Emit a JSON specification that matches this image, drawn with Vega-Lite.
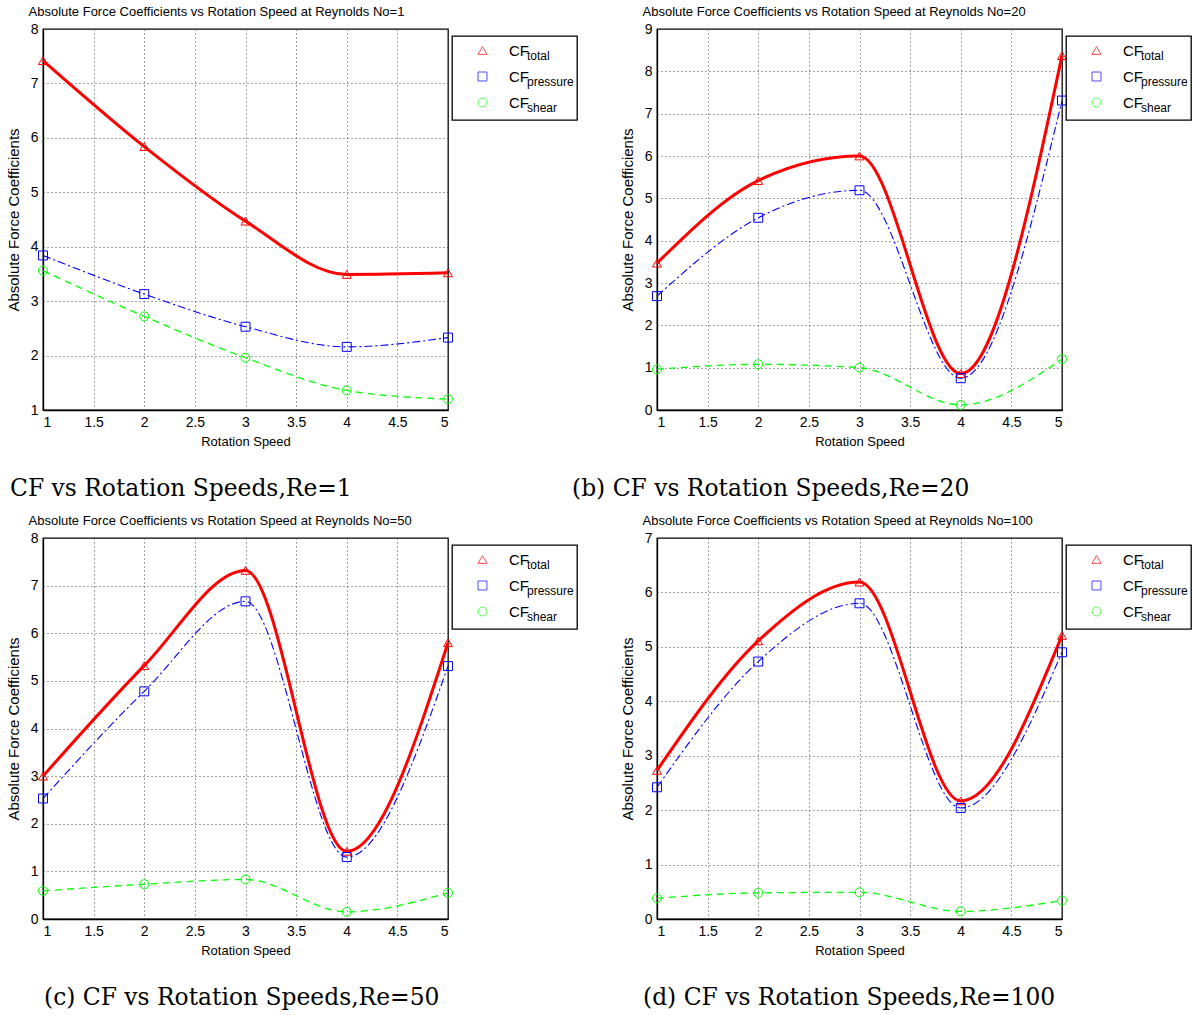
{
  "$schema": "https://vega.github.io/schema/vega-lite/v6.json",
  "background": "white",
  "padding": {"left": 5, "top": 4, "right": 0, "bottom": 0},
  "datasets": {
    "cf": [
      {"re": 1, "speed": 1, "series": "total", "cf": 7.42},
      {"re": 1, "speed": 2, "series": "total", "cf": 5.84},
      {"re": 1, "speed": 3, "series": "total", "cf": 4.47},
      {"re": 1, "speed": 4, "series": "total", "cf": 3.49},
      {"re": 1, "speed": 5, "series": "total", "cf": 3.52},
      {"re": 1, "speed": 1, "series": "pressure", "cf": 3.84},
      {"re": 1, "speed": 2, "series": "pressure", "cf": 3.13},
      {"re": 1, "speed": 3, "series": "pressure", "cf": 2.53},
      {"re": 1, "speed": 4, "series": "pressure", "cf": 2.16},
      {"re": 1, "speed": 5, "series": "pressure", "cf": 2.33},
      {"re": 1, "speed": 1, "series": "shear", "cf": 3.56},
      {"re": 1, "speed": 2, "series": "shear", "cf": 2.72},
      {"re": 1, "speed": 3, "series": "shear", "cf": 1.96},
      {"re": 1, "speed": 4, "series": "shear", "cf": 1.36},
      {"re": 1, "speed": 5, "series": "shear", "cf": 1.2},
      {"re": 20, "speed": 1, "series": "total", "cf": 3.47},
      {"re": 20, "speed": 2, "series": "total", "cf": 5.42},
      {"re": 20, "speed": 3, "series": "total", "cf": 6.0},
      {"re": 20, "speed": 4, "series": "total", "cf": 0.86},
      {"re": 20, "speed": 5, "series": "total", "cf": 8.37},
      {"re": 20, "speed": 1, "series": "pressure", "cf": 2.69},
      {"re": 20, "speed": 2, "series": "pressure", "cf": 4.54},
      {"re": 20, "speed": 3, "series": "pressure", "cf": 5.19},
      {"re": 20, "speed": 4, "series": "pressure", "cf": 0.75},
      {"re": 20, "speed": 5, "series": "pressure", "cf": 7.31},
      {"re": 20, "speed": 1, "series": "shear", "cf": 0.96},
      {"re": 20, "speed": 2, "series": "shear", "cf": 1.08},
      {"re": 20, "speed": 3, "series": "shear", "cf": 1.0},
      {"re": 20, "speed": 4, "series": "shear", "cf": 0.12},
      {"re": 20, "speed": 5, "series": "shear", "cf": 1.2},
      {"re": 50, "speed": 1, "series": "total", "cf": 3.0},
      {"re": 50, "speed": 2, "series": "total", "cf": 5.32},
      {"re": 50, "speed": 3, "series": "total", "cf": 7.32},
      {"re": 50, "speed": 4, "series": "total", "cf": 1.42},
      {"re": 50, "speed": 5, "series": "total", "cf": 5.8},
      {"re": 50, "speed": 1, "series": "pressure", "cf": 2.53},
      {"re": 50, "speed": 2, "series": "pressure", "cf": 4.78},
      {"re": 50, "speed": 3, "series": "pressure", "cf": 6.67},
      {"re": 50, "speed": 4, "series": "pressure", "cf": 1.3},
      {"re": 50, "speed": 5, "series": "pressure", "cf": 5.31},
      {"re": 50, "speed": 1, "series": "shear", "cf": 0.59},
      {"re": 50, "speed": 2, "series": "shear", "cf": 0.73},
      {"re": 50, "speed": 3, "series": "shear", "cf": 0.83},
      {"re": 50, "speed": 4, "series": "shear", "cf": 0.15},
      {"re": 50, "speed": 5, "series": "shear", "cf": 0.55},
      {"re": 100, "speed": 1, "series": "total", "cf": 2.73},
      {"re": 100, "speed": 2, "series": "total", "cf": 5.11},
      {"re": 100, "speed": 3, "series": "total", "cf": 6.19},
      {"re": 100, "speed": 4, "series": "total", "cf": 2.17},
      {"re": 100, "speed": 5, "series": "total", "cf": 5.21},
      {"re": 100, "speed": 1, "series": "pressure", "cf": 2.42},
      {"re": 100, "speed": 2, "series": "pressure", "cf": 4.73},
      {"re": 100, "speed": 3, "series": "pressure", "cf": 5.8},
      {"re": 100, "speed": 4, "series": "pressure", "cf": 2.04},
      {"re": 100, "speed": 5, "series": "pressure", "cf": 4.9},
      {"re": 100, "speed": 1, "series": "shear", "cf": 0.38},
      {"re": 100, "speed": 2, "series": "shear", "cf": 0.48},
      {"re": 100, "speed": 3, "series": "shear", "cf": 0.49},
      {"re": 100, "speed": 4, "series": "shear", "cf": 0.14},
      {"re": 100, "speed": 5, "series": "shear", "cf": 0.34}
    ]
  },
  "columns": 2,
  "spacing": {"row": 128, "column": 209},
  "bounds": "flush",
  "resolve": {
    "scale": {"color": "independent", "shape": "independent", "opacity": "independent", "x": "independent", "y": "independent"},
    "legend": {"color": "independent", "shape": "independent", "opacity": "independent"}
  },
  "concat": [
    {
      "width": 405, "height": 381,
      "data": {"name": "cf"},
      "transform": [{"filter": "datum.re == 1"}],
      "title": {"text": "CF vs Rotation Speeds,Re=1", "dx": -33},
      "encoding": {
        "y": {"field": "cf", "type": "quantitative", "scale": {"domain": [1, 8], "nice": false, "zero": false},
              "axis": {"values": [1, 2, 3, 4, 5, 6, 7, 8], "title": "Absolute Force Coefficients"}}
      },
      "resolve": {"axis": {"x": "independent"}},
      "layer": [
        {"transform": [{"filter": "datum.series == 'total'"}],
         "mark": {"type": "line", "interpolate": "monotone", "color": "#ff0000", "strokeWidth": 3},
         "encoding": {"x": {"field": "speed", "type": "quantitative", "scale": {"domain": [1, 5]},
                            "axis": {"values": [1, 1.5, 2, 2.5, 3, 3.5, 4, 4.5, 5], "format": "~g", "title": "Rotation Speed"}}}},
        {"transform": [{"filter": "datum.series == 'pressure'"}],
         "mark": {"type": "line", "interpolate": "monotone", "color": "#0000ff", "strokeWidth": 1.1, "strokeDash": [8, 3, 2, 3]},
         "encoding": {"x": {"field": "speed", "type": "quantitative", "axis": null}}},
        {"transform": [{"filter": "datum.series == 'shear'"}],
         "mark": {"type": "line", "interpolate": "monotone", "color": "#00ff00", "strokeWidth": 1.3, "strokeDash": [7, 5]},
         "encoding": {"x": {"field": "speed", "type": "quantitative", "axis": null}}},
        {"mark": {"type": "point", "filled": false, "size": 80, "strokeWidth": 1},
         "encoding": {
           "x": {"field": "speed", "type": "quantitative",
                 "axis": {"orient": "top", "labels": false, "ticks": false, "domain": false, "grid": false,
                          "title": "Absolute Force Coefficients vs Rotation Speed at Reynolds No=1"}},
           "color": {"field": "series", "type": "nominal", "scale": {"domain": ["total", "pressure", "shear"], "range": ["#ff0000", "#0000ff", "#00ff00"]},
                     "legend": {"title": null, "legendX": 409, "legendY": 7, "labelExpr": "'CF'"}},
           "shape": {"field": "series", "type": "nominal", "scale": {"domain": ["total", "pressure", "shear"], "range": ["triangle-up", "square", "circle"]},
                     "legend": {"title": null, "legendX": 409, "legendY": 7, "labelExpr": "'CF'"}},
           "opacity": {"field": "series", "type": "ordinal", "sort": ["total", "pressure", "shear"], "scale": {"range": [1, 1]},
                       "legend": {"title": null, "legendX": 409, "legendY": 7, "padding": 3, "strokeColor": "black", "symbolSize": 529, "symbolOffset": 0, "symbolStrokeColor": "transparent", "symbolFillColor": "transparent", "labelOffset": 48, "labelFontSize": 12, "labelBaseline": "top", "rowPadding": -3.5,
                                  "encode": {"symbols": {"update": {"opacity": {"value": 0}, "stroke": {"value": "transparent"}, "fill": {"value": "transparent"}, "strokeOpacity": {"value": 0}, "fillOpacity": {"value": 0}}}}}}
         }}
      ]
    },
    {
      "width": 405, "height": 381,
      "data": {"name": "cf"},
      "transform": [{"filter": "datum.re == 20"}],
      "title": {"text": "(b) CF vs Rotation Speeds,Re=20", "dx": -85},
      "encoding": {
        "y": {"field": "cf", "type": "quantitative", "scale": {"domain": [0, 9], "nice": false, "zero": false},
              "axis": {"values": [0, 1, 2, 3, 4, 5, 6, 7, 8, 9], "title": "Absolute Force Coefficients"}}
      },
      "resolve": {"axis": {"x": "independent"}},
      "layer": [
        {"transform": [{"filter": "datum.series == 'total'"}],
         "mark": {"type": "line", "interpolate": "monotone", "color": "#ff0000", "strokeWidth": 3},
         "encoding": {"x": {"field": "speed", "type": "quantitative", "scale": {"domain": [1, 5]},
                            "axis": {"values": [1, 1.5, 2, 2.5, 3, 3.5, 4, 4.5, 5], "format": "~g", "title": "Rotation Speed"}}}},
        {"transform": [{"filter": "datum.series == 'pressure'"}],
         "mark": {"type": "line", "interpolate": "monotone", "color": "#0000ff", "strokeWidth": 1.1, "strokeDash": [8, 3, 2, 3]},
         "encoding": {"x": {"field": "speed", "type": "quantitative", "axis": null}}},
        {"transform": [{"filter": "datum.series == 'shear'"}],
         "mark": {"type": "line", "interpolate": "monotone", "color": "#00ff00", "strokeWidth": 1.3, "strokeDash": [7, 5]},
         "encoding": {"x": {"field": "speed", "type": "quantitative", "axis": null}}},
        {"mark": {"type": "point", "filled": false, "size": 80, "strokeWidth": 1},
         "encoding": {
           "x": {"field": "speed", "type": "quantitative",
                 "axis": {"orient": "top", "labels": false, "ticks": false, "domain": false, "grid": false,
                          "title": "Absolute Force Coefficients vs Rotation Speed at Reynolds No=20"}},
           "color": {"field": "series", "type": "nominal", "scale": {"domain": ["total", "pressure", "shear"], "range": ["#ff0000", "#0000ff", "#00ff00"]},
                     "legend": {"title": null, "legendX": 409, "legendY": 7, "labelExpr": "'CF'"}},
           "shape": {"field": "series", "type": "nominal", "scale": {"domain": ["total", "pressure", "shear"], "range": ["triangle-up", "square", "circle"]},
                     "legend": {"title": null, "legendX": 409, "legendY": 7, "labelExpr": "'CF'"}},
           "opacity": {"field": "series", "type": "ordinal", "sort": ["total", "pressure", "shear"], "scale": {"range": [1, 1]},
                       "legend": {"title": null, "legendX": 409, "legendY": 7, "padding": 3, "strokeColor": "black", "symbolSize": 529, "symbolOffset": 0, "symbolStrokeColor": "transparent", "symbolFillColor": "transparent", "labelOffset": 48, "labelFontSize": 12, "labelBaseline": "top", "rowPadding": -3.5,
                                  "encode": {"symbols": {"update": {"opacity": {"value": 0}, "stroke": {"value": "transparent"}, "fill": {"value": "transparent"}, "strokeOpacity": {"value": 0}, "fillOpacity": {"value": 0}}}}}}
         }}
      ]
    },
    {
      "width": 405, "height": 381,
      "data": {"name": "cf"},
      "transform": [{"filter": "datum.re == 50"}],
      "title": {"text": "(c) CF vs Rotation Speeds,Re=50", "dx": 1},
      "encoding": {
        "y": {"field": "cf", "type": "quantitative", "scale": {"domain": [0, 8], "nice": false, "zero": false},
              "axis": {"values": [0, 1, 2, 3, 4, 5, 6, 7, 8], "title": "Absolute Force Coefficients"}}
      },
      "resolve": {"axis": {"x": "independent"}},
      "layer": [
        {"transform": [{"filter": "datum.series == 'total'"}],
         "mark": {"type": "line", "interpolate": "monotone", "color": "#ff0000", "strokeWidth": 3},
         "encoding": {"x": {"field": "speed", "type": "quantitative", "scale": {"domain": [1, 5]},
                            "axis": {"values": [1, 1.5, 2, 2.5, 3, 3.5, 4, 4.5, 5], "format": "~g", "title": "Rotation Speed"}}}},
        {"transform": [{"filter": "datum.series == 'pressure'"}],
         "mark": {"type": "line", "interpolate": "monotone", "color": "#0000ff", "strokeWidth": 1.1, "strokeDash": [8, 3, 2, 3]},
         "encoding": {"x": {"field": "speed", "type": "quantitative", "axis": null}}},
        {"transform": [{"filter": "datum.series == 'shear'"}],
         "mark": {"type": "line", "interpolate": "monotone", "color": "#00ff00", "strokeWidth": 1.3, "strokeDash": [7, 5]},
         "encoding": {"x": {"field": "speed", "type": "quantitative", "axis": null}}},
        {"mark": {"type": "point", "filled": false, "size": 80, "strokeWidth": 1},
         "encoding": {
           "x": {"field": "speed", "type": "quantitative",
                 "axis": {"orient": "top", "labels": false, "ticks": false, "domain": false, "grid": false,
                          "title": "Absolute Force Coefficients vs Rotation Speed at Reynolds No=50"}},
           "color": {"field": "series", "type": "nominal", "scale": {"domain": ["total", "pressure", "shear"], "range": ["#ff0000", "#0000ff", "#00ff00"]},
                     "legend": {"title": null, "legendX": 409, "legendY": 7, "labelExpr": "'CF'"}},
           "shape": {"field": "series", "type": "nominal", "scale": {"domain": ["total", "pressure", "shear"], "range": ["triangle-up", "square", "circle"]},
                     "legend": {"title": null, "legendX": 409, "legendY": 7, "labelExpr": "'CF'"}},
           "opacity": {"field": "series", "type": "ordinal", "sort": ["total", "pressure", "shear"], "scale": {"range": [1, 1]},
                       "legend": {"title": null, "legendX": 409, "legendY": 7, "padding": 3, "strokeColor": "black", "symbolSize": 529, "symbolOffset": 0, "symbolStrokeColor": "transparent", "symbolFillColor": "transparent", "labelOffset": 48, "labelFontSize": 12, "labelBaseline": "top", "rowPadding": -3.5,
                                  "encode": {"symbols": {"update": {"opacity": {"value": 0}, "stroke": {"value": "transparent"}, "fill": {"value": "transparent"}, "strokeOpacity": {"value": 0}, "fillOpacity": {"value": 0}}}}}}
         }}
      ]
    },
    {
      "width": 405, "height": 381,
      "data": {"name": "cf"},
      "transform": [{"filter": "datum.re == 100"}],
      "title": {"text": "(d) CF vs Rotation Speeds,Re=100", "dx": -14},
      "encoding": {
        "y": {"field": "cf", "type": "quantitative", "scale": {"domain": [0, 7], "nice": false, "zero": false},
              "axis": {"values": [0, 1, 2, 3, 4, 5, 6, 7], "title": "Absolute Force Coefficients"}}
      },
      "resolve": {"axis": {"x": "independent"}},
      "layer": [
        {"transform": [{"filter": "datum.series == 'total'"}],
         "mark": {"type": "line", "interpolate": "monotone", "color": "#ff0000", "strokeWidth": 3},
         "encoding": {"x": {"field": "speed", "type": "quantitative", "scale": {"domain": [1, 5]},
                            "axis": {"values": [1, 1.5, 2, 2.5, 3, 3.5, 4, 4.5, 5], "format": "~g", "title": "Rotation Speed"}}}},
        {"transform": [{"filter": "datum.series == 'pressure'"}],
         "mark": {"type": "line", "interpolate": "monotone", "color": "#0000ff", "strokeWidth": 1.1, "strokeDash": [8, 3, 2, 3]},
         "encoding": {"x": {"field": "speed", "type": "quantitative", "axis": null}}},
        {"transform": [{"filter": "datum.series == 'shear'"}],
         "mark": {"type": "line", "interpolate": "monotone", "color": "#00ff00", "strokeWidth": 1.3, "strokeDash": [7, 5]},
         "encoding": {"x": {"field": "speed", "type": "quantitative", "axis": null}}},
        {"mark": {"type": "point", "filled": false, "size": 80, "strokeWidth": 1},
         "encoding": {
           "x": {"field": "speed", "type": "quantitative",
                 "axis": {"orient": "top", "labels": false, "ticks": false, "domain": false, "grid": false,
                          "title": "Absolute Force Coefficients vs Rotation Speed at Reynolds No=100"}},
           "color": {"field": "series", "type": "nominal", "scale": {"domain": ["total", "pressure", "shear"], "range": ["#ff0000", "#0000ff", "#00ff00"]},
                     "legend": {"title": null, "legendX": 409, "legendY": 7, "labelExpr": "'CF'"}},
           "shape": {"field": "series", "type": "nominal", "scale": {"domain": ["total", "pressure", "shear"], "range": ["triangle-up", "square", "circle"]},
                     "legend": {"title": null, "legendX": 409, "legendY": 7, "labelExpr": "'CF'"}},
           "opacity": {"field": "series", "type": "ordinal", "sort": ["total", "pressure", "shear"], "scale": {"range": [1, 1]},
                       "legend": {"title": null, "legendX": 409, "legendY": 7, "padding": 3, "strokeColor": "black", "symbolSize": 529, "symbolOffset": 0, "symbolStrokeColor": "transparent", "symbolFillColor": "transparent", "labelOffset": 48, "labelFontSize": 12, "labelBaseline": "top", "rowPadding": -3.5,
                                  "encode": {"symbols": {"update": {"opacity": {"value": 0}, "stroke": {"value": "transparent"}, "fill": {"value": "transparent"}, "strokeOpacity": {"value": 0}, "fillOpacity": {"value": 0}}}}}}
         }}
      ]
    }
  ],
  "config": {
    "font": "Liberation Sans",
    "view": {"stroke": "black", "strokeWidth": 1.3},
    "axis": {
      "labelFont": "Liberation Sans", "labelFontSize": 14, "labelColor": "black",
      "titleFont": "Liberation Sans", "titleFontSize": 13, "titleFontWeight": "normal", "titleColor": "black",
      "domainColor": "black", "domainWidth": 1.3, "ticks": false, "labelPadding": 5,
      "grid": true, "gridColor": "#444444", "gridDash": [1, 3], "gridOpacity": 1, "gridWidth": 1
    },
    "axisY": {"titlePadding": 9, "titleFontSize": 15},
    "axisBottom": {"titlePadding": 6},
    "axisTop": {"titleX": -15, "titleAlign": "left", "titlePadding": 11, "titleFontSize": 13},
    "legend": {
      "orient": "none", "padding": 7, "strokeColor": "transparent", "fillColor": null,
      "symbolSize": 80, "symbolStrokeWidth": 1, "symbolOffset": 16, "labelOffset": 19, "rowPadding": 10,
      "labelFont": "Liberation Sans", "labelFontSize": 15, "labelColor": "black", "strokeWidth": 1.3
    },
    "title": {
      "orient": "bottom", "anchor": "start", "frame": "group", "font": "DejaVu Serif", "fontSize": 23.4,
      "fontWeight": "normal", "color": "black", "offset": 30
    }
  }
}
